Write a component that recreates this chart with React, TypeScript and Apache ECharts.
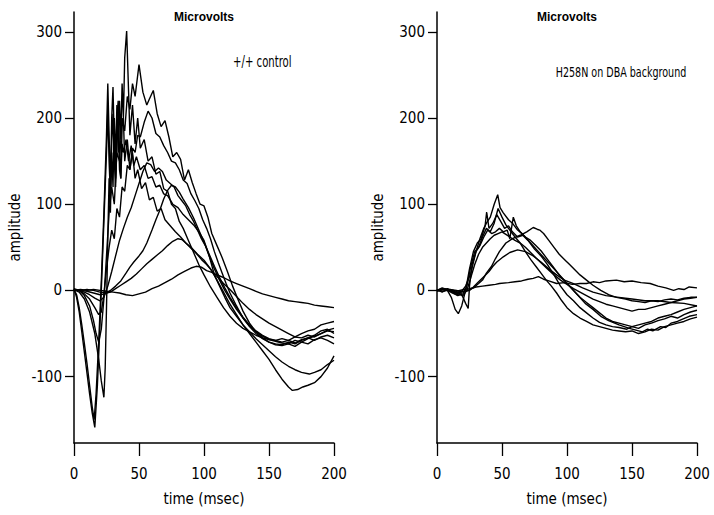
import React, { useEffect, useRef } from "react";
import * as echarts from "echarts";

// ---- tick labels ----
const timeTicks = [0, 50, 100, 150, 200];
const ampTicks = [-100, 0, 100, 200, 300];

// ---- left panel: +/+ control (time ms, amplitude µV) ----
const ctl1 = [[0,0],[5,1],[10,0],[15,1],[20,0],[25,-1],[30,-2],[35,-3],[40,-5],[45,-6],[50,-4],[55,-2],[60,2],[65,5],[70,9],[75,13],[80,18],[85,22],[90,26],[94,28],[98,27],[102,23],[106,21],[110,18],[115,15],[120,11],[125,8],[130,5],[135,2],[140,-1],[145,-4],[150,-6],[155,-8],[160,-10],[165,-12],[170,-13],[175,-14],[180,-15],[185,-17],[190,-18],[195,-19],[200,-20]];
const ctl2 = [[0,1],[5,0],[10,1],[15,0],[20,-2],[25,-3],[28,-2],[32,2],[36,6],[40,10],[44,14],[48,19],[52,25],[56,31],[60,36],[64,41],[68,46],[72,52],[76,57],[80,60],[83,59],[86,55],[90,49],[94,43],[98,36],[102,30],[106,23],[110,16],[115,8],[120,1],[125,-7],[130,-15],[135,-22],[140,-28],[145,-33],[150,-38],[155,-42],[160,-46],[165,-50],[170,-54],[175,-55],[180,-52],[185,-54],[190,-50],[195,-46],[200,-44]];
const ctl3 = [[0,1],[5,0],[10,-1],[15,-3],[20,-5],[24,-4],[28,0],[32,5],[36,11],[40,20],[43,27],[46,33],[50,40],[53,46],[56,55],[60,70],[63,82],[66,93],[69,106],[72,116],[75,122],[78,120],[81,114],[84,106],[88,96],[92,84],[96,70],[100,56],[104,42],[108,28],[112,15],[116,3],[120,-8],[125,-20],[130,-31],[135,-40],[140,-47],[145,-52],[150,-56],[155,-58],[160,-60],[165,-58],[170,-61],[175,-57],[180,-55],[185,-58],[190,-54],[195,-52],[200,-55]];
const ctl4 = [[0,1],[4,0],[8,-2],[12,-5],[16,-9],[20,-12],[23,-8],[26,5],[29,22],[32,40],[35,58],[38,72],[41,85],[44,96],[47,110],[50,124],[53,138],[56,148],[59,146],[62,138],[65,142],[68,138],[71,128],[74,124],[77,120],[80,110],[83,104],[86,98],[89,88],[92,80],[95,70],[98,60],[101,52],[104,40],[108,25],[112,12],[116,0],[120,-10],[125,-22],[130,-32],[135,-41],[140,-48],[145,-53],[150,-57],[155,-59],[160,-61],[165,-62],[170,-58],[175,-60],[180,-56],[185,-53],[190,-50],[195,-47],[200,-48]];
const ctl5 = [[0,2],[4,0],[8,-4],[12,-10],[16,-20],[19,-28],[21,-25],[23,-5],[25,25],[27,50],[29,70],[31,60],[33,95],[35,85],[37,120],[39,115],[41,145],[43,140],[45,165],[47,160],[49,180],[51,178],[54,195],[57,208],[60,200],[63,182],[66,178],[69,168],[72,160],[75,150],[78,148],[81,140],[84,128],[87,124],[90,112],[93,104],[96,95],[99,82],[102,72],[105,60],[108,45],[111,32],[114,20],[117,8],[120,-3],[125,-18],[130,-32],[135,-42],[140,-50],[145,-56],[150,-60],[155,-62],[160,-63],[165,-60],[170,-62],[175,-58],[180,-55],[185,-52],[190,-47],[195,-45],[200,-50]];
const ctl6 = [[0,1],[4,0],[8,-6],[12,-18],[15,-35],[17,-50],[19,-60],[21,-45],[23,-10],[25,40],[27,90],[29,120],[31,100],[33,160],[35,150],[37,200],[39,185],[41,225],[43,210],[45,240],[47,225],[50,262],[53,230],[56,215],[58,222],[61,232],[64,205],[67,190],[70,197],[73,178],[76,155],[79,160],[82,152],[85,128],[88,140],[91,125],[94,112],[97,100],[100,98],[103,85],[106,66],[110,52],[114,38],[118,22],[122,5],[126,-10],[130,-24],[135,-38],[140,-48],[145,-55],[150,-60],[155,-63],[160,-64],[165,-62],[170,-65],[175,-60],[180,-62],[185,-57],[190,-55],[195,-58],[200,-62]];
const ctl7 = [[0,1],[4,-2],[8,-10],[12,-25],[16,-50],[19,-80],[21,-105],[23,-124],[24,-90],[25,-20],[26,60],[27,130],[28,90],[29,160],[30,120],[31,200],[32,150],[33,215],[34,160],[35,220],[36,175],[37,240],[38,200],[39,270],[40.5,301],[42,230],[43,180],[45,215],[47,170],[49,200],[51,165],[54,175],[57,150],[60,155],[63,135],[66,138],[69,118],[72,115],[75,100],[78,95],[81,80],[84,72],[88,58],[92,44],[96,30],[100,18],[105,4],[110,-8],[115,-20],[120,-30],[125,-38],[130,-44],[135,-48],[140,-52],[145,-55],[150,-57],[155,-58],[160,-56],[165,-58],[170,-54],[175,-50],[180,-47],[185,-45],[190,-40],[195,-38],[200,-36]];
const ctl8 = [[0,1],[2,-5],[4,-20],[6,-40],[8,-62],[10,-85],[12,-110],[14,-135],[15.5,-150],[17,-120],[19,-60],[21,10],[23,90],[25,180],[26,240],[27,180],[28,120],[29,200],[30,236],[31,170],[32,130],[33,200],[34,220],[35,160],[36,130],[37,190],[38,200],[39,150],[41,175],[43,140],[45,160],[47,130],[49,140],[52,118],[55,125],[58,105],[61,108],[64,92],[67,95],[70,82],[74,75],[78,68],[82,62],[86,55],[90,50],[95,42],[100,35],[105,25],[110,12],[115,-2],[120,-16],[125,-28],[130,-40],[135,-48],[140,-56],[145,-63],[150,-70],[155,-77],[160,-83],[165,-88],[170,-92],[175,-95],[181,-97],[185,-95],[190,-92],[195,-86],[200,-81]];
const ctl9 = [[0,2],[2,-8],[4,-25],[6,-48],[8,-72],[10,-96],[12,-120],[14,-142],[16,-159],[18,-110],[20,-40],[22,40],[24,120],[25,160],[26,210],[27,150],[28,110],[29,170],[30,205],[31,150],[32,120],[33,170],[34,195],[35,140],[36,130],[37,170],[38,160],[40,175],[42,150],[44,168],[46,145],[48,155],[51,140],[54,145],[57,130],[60,132],[63,120],[66,122],[69,112],[72,110],[76,100],[80,96],[84,88],[88,82],[92,76],[96,68],[100,58],[104,40],[108,18],[112,5],[116,-8],[120,-20],[125,-30],[130,-40],[135,-50],[140,-60],[145,-70],[150,-80],[155,-92],[160,-103],[165,-112],[168,-116],[172,-115],[176,-112],[180,-110],[185,-107],[190,-100],[195,-90],[200,-76]];

// ---- right panel: H258N on DBA background ----
const mut1 = [[0,0],[5,2],[10,1],[15,-1],[20,1],[25,2],[30,4],[35,5],[40,6],[45,7],[48,8],[55,9],[60,10],[65,11],[70,13],[74,14],[78,16],[82,13],[86,11],[92,8],[98,9],[104,7],[110,8],[115,8],[120,10],[125,9],[130,11],[138,12],[144,10],[150,11],[157,9],[164,8],[170,5],[176,3],[182,0],[186,2],[190,1],[194,4],[200,3]];
const mut2 = [[0,0],[5,-1],[10,1],[15,0],[20,-2],[25,0],[28,4],[32,10],[36,16],[40,22],[43,28],[46,33],[51,39],[56,44],[62,47],[68,45],[74,40],[80,33],[86,25],[92,18],[98,12],[105,8],[112,3],[120,-2],[130,-6],[140,-8],[150,-10],[160,-12],[170,-12],[180,-14],[190,-15],[200,-18]];
const mut3 = [[0,-1],[5,1],[10,0],[15,-2],[20,-1],[24,0],[28,3],[32,8],[35,12],[38,20],[42,28],[45,37],[48,45],[53,55],[58,60],[64,64],[69,68],[74,73],[77,71],[79,70],[82,66],[86,58],[90,50],[94,42],[98,36],[102,30],[106,24],[110,18],[115,12],[120,6],[126,0],[132,-5],[138,-8],[145,-10],[150,-12],[155,-13],[160,-14],[165,-12],[170,-13],[175,-11],[180,-10],[185,-11],[190,-9],[195,-8],[200,-8]];
const mut4 = [[0,0],[4,2],[8,0],[12,-3],[15,-5],[18,-3],[22,5],[26,20],[30,45],[33,60],[36,72],[38,78],[41,85],[44,100],[46.7,111],[48.5,96],[51,90],[55,82],[58,78],[62,70],[66,65],[72,55],[78,45],[84,35],[90,25],[96,15],[102,5],[108,-5],[114,-15],[120,-22],[126,-30],[132,-35],[140,-40],[148,-44],[153,-46],[158,-48],[162,-45],[166,-47],[172,-42],[176,-43],[180,-38],[185,-36],[188,-34],[194,-30],[200,-28]];
const mut5 = [[0,0],[4,2],[8,0],[11,-8],[14,-22],[16.4,-27],[19,-18],[22,0],[25,25],[28,45],[31,55],[34,60],[37,75],[38.2,91],[40,72],[43,78],[46,88],[49,80],[52,72],[55,75],[58,68],[62,62],[66,64],[70,58],[75,48],[80,40],[85,30],[90,18],[95,5],[100,-5],[105,-12],[110,-20],[115,-26],[120,-32],[125,-37],[130,-40],[135,-42],[140,-43],[146,-45],[150,-42],[155,-44],[160,-40],[165,-38],[170,-35],[175,-33],[180,-30],[185,-32],[190,-28],[195,-25],[200,-23]];
const mut6 = [[0,0],[5,2],[10,0],[15,-3],[18,-2],[20,-8],[22,-15],[24,-21],[25,5],[27,30],[30,45],[33,52],[36,62],[39,70],[42,66],[45,68],[48,72],[51,68],[54,70],[56,60],[58.7,85],[61,75],[64,68],[68,62],[72,58],[76,52],[80,46],[85,36],[90,26],[95,16],[100,8],[105,0],[110,-8],[115,-14],[120,-20],[125,-26],[130,-32],[135,-36],[140,-38],[145,-40],[150,-42],[155,-40],[160,-38],[165,-36],[170,-32],[175,-30],[180,-28],[185,-25],[190,-22],[195,-20],[200,-18]];
const mut7 = [[0,0],[4,3],[8,1],[12,-2],[16,-6],[20,-4],[23,5],[26,28],[29,45],[32,50],[35,62],[38,72],[41,68],[44,78],[47,95],[50,85],[53,76],[56,70],[60,62],[64,55],[68,45],[72,36],[76,28],[80,20],[84,12],[88,5],[92,-3],[96,-12],[100,-20],[105,-27],[110,-32],[115,-36],[120,-40],[125,-42],[130,-44],[135,-46],[140,-47],[145,-48],[150,-47],[155,-50],[160,-48],[165,-45],[170,-46],[175,-42],[180,-40],[185,-38],[190,-36],[195,-33],[200,-31]];
const mut8 = [[0,1],[4,-2],[8,2],[12,-1],[16,-4],[20,-6],[23,0],[26,15],[29,30],[32,42],[35,50],[38,55],[41,60],[44,64],[47,66],[50,68],[53,65],[56,62],[60,58],[64,55],[68,50],[72,44],[76,38],[80,32],[85,25],[90,18],[95,12],[100,7],[105,2],[110,-2],[115,-6],[120,-10],[125,-13],[130,-16],[135,-18],[140,-20],[145,-22],[150,-24],[155,-22],[160,-22],[165,-20],[170,-18],[175,-16],[180,-14],[185,-12],[190,-10],[195,-9],[200,-8]];

const controlTraces = [ctl1, ctl2, ctl3, ctl4, ctl5, ctl6, ctl7, ctl8, ctl9];
const mutantTraces = [mut1, mut2, mut3, mut4, mut5, mut6, mut7, mut8];

const FONT = "'Liberation Sans Narrow', 'Arial Narrow', 'DejaVu Sans Condensed', 'Liberation Sans', Arial, sans-serif";

function makeX(gridIndex: number) {
  return {
    type: "value",
    gridIndex,
    min: 0,
    max: 200,
    interval: 50,
    name: "time (msec)",
    nameLocation: "middle",
    nameGap: 48,
    nameTextStyle: { color: "#000", fontFamily: FONT, fontSize: 15 },
    axisLine: { show: true, onZero: false, lineStyle: { color: "#000", width: 1.5 } },
    axisTick: { show: true, inside: false, length: 13, customValues: timeTicks, lineStyle: { color: "#000", width: 1.3 } },
    axisLabel: { color: "#000", fontFamily: FONT, fontSize: 15, margin: 23, customValues: timeTicks },
    splitLine: { show: false },
  };
}

function makeY(gridIndex: number) {
  return {
    type: "value",
    gridIndex,
    min: -177,
    max: 323,
    name: "amplitude",
    nameLocation: "middle",
    nameGap: 52,
    nameTextStyle: { color: "#000", fontFamily: FONT, fontSize: 15 },
    axisLine: { show: true, onZero: false, lineStyle: { color: "#000", width: 1.5 } },
    axisTick: { show: true, length: 9, customValues: ampTicks, lineStyle: { color: "#000", width: 1.3 } },
    axisLabel: { color: "#000", fontFamily: FONT, fontSize: 15, margin: 12, customValues: ampTicks },
    splitLine: { show: false },
  };
}

export default function App() {
  const ref = useRef<HTMLDivElement>(null);
  useEffect(() => {
    if (!ref.current) return;
    const chart = echarts.init(ref.current, null, { renderer: "svg" });
    const series: any[] = [];
    controlTraces.forEach((d, i) =>
      series.push({
        name: "control " + (i + 1),
        type: "line",
        xAxisIndex: 0,
        yAxisIndex: 0,
        data: d,
        showSymbol: false,
        silent: true,
        lineStyle: { color: "#000", width: 1.4 },
      })
    );
    mutantTraces.forEach((d, i) =>
      series.push({
        name: "H258N " + (i + 1),
        type: "line",
        xAxisIndex: 1,
        yAxisIndex: 1,
        data: d,
        showSymbol: false,
        silent: true,
        lineStyle: { color: "#000", width: 1.4 },
      })
    );
    chart.setOption({
      animation: false,
      backgroundColor: "#fff",
      grid: [
        { left: 74, top: 12, width: 260, height: 431 },
        { left: 437, top: 12, width: 260, height: 431 },
      ],
      xAxis: [makeX(0), makeX(1)],
      yAxis: [makeY(0), makeY(1)],
      graphic: [
        { type: "text", x: 204, y: 17, style: { text: "Microvolts", fill: "#000", font: "bold 12px 'Liberation Sans', Arial, sans-serif", textAlign: "center", textVerticalAlign: "middle" } },
        { type: "text", x: 567, y: 17, style: { text: "Microvolts", fill: "#000", font: "bold 12px 'Liberation Sans', Arial, sans-serif", textAlign: "center", textVerticalAlign: "middle" } },
        { type: "text", x: 233, y: 62, scaleX: 0.75, style: { text: "+/+ control", fill: "#000", font: "15px " + FONT, textAlign: "left", textVerticalAlign: "middle" } },
        { type: "text", x: 621, y: 72, scaleX: 0.76, style: { text: "H258N on DBA background", fill: "#000", font: "14px " + FONT, textAlign: "center", textVerticalAlign: "middle" } },
      ],
      series,
    });
    return () => chart.dispose();
  }, []);
  return <div ref={ref} style={{ position: "fixed", left: 0, top: 0, width: 714, height: 515, background: "#fff" }} />;
}
